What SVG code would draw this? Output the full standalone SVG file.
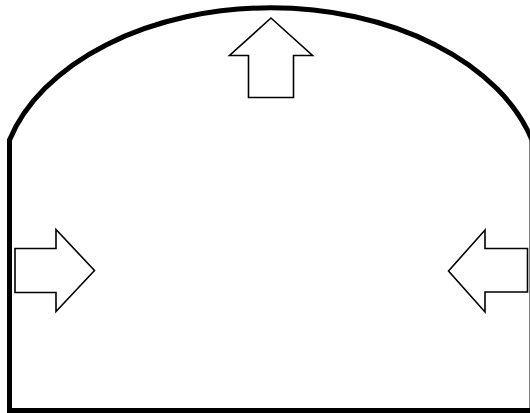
<svg xmlns="http://www.w3.org/2000/svg" width="530" height="413" viewBox="0 0 530 413">
  <style>
    .wall { fill: none; stroke: #000; stroke-width: 5; stroke-linejoin: miter; }
    .arrow { fill: #fff; stroke: #000; stroke-width: 1.6; stroke-linejoin: miter; }
  </style>
  <rect x="0" y="0" width="530" height="413" fill="#fff"/>
  <g id="tunnel">
    <path class="wall" d="M9.5,410.5 V140 A271 180 0 0 1 532,140 V410.5 Z"/>
  </g>
  <g id="arrow-up">
    <path class="arrow" d="M271,18 L312.5,55.5 H293.5 V97.5 H248.5 V55.5 H229.5 Z"/>
  </g>
  <g id="arrow-right">
    <path class="arrow" d="M94.5,270.5 L56,229.5 V248.5 H15 V292.5 H56 V311.5 Z"/>
  </g>
  <g id="arrow-left">
    <path class="arrow" d="M448.5,271 L485,230 V248.5 H527.5 V292 H485 V312 Z"/>
  </g>
  <g id="connectors"></g>
</svg>
